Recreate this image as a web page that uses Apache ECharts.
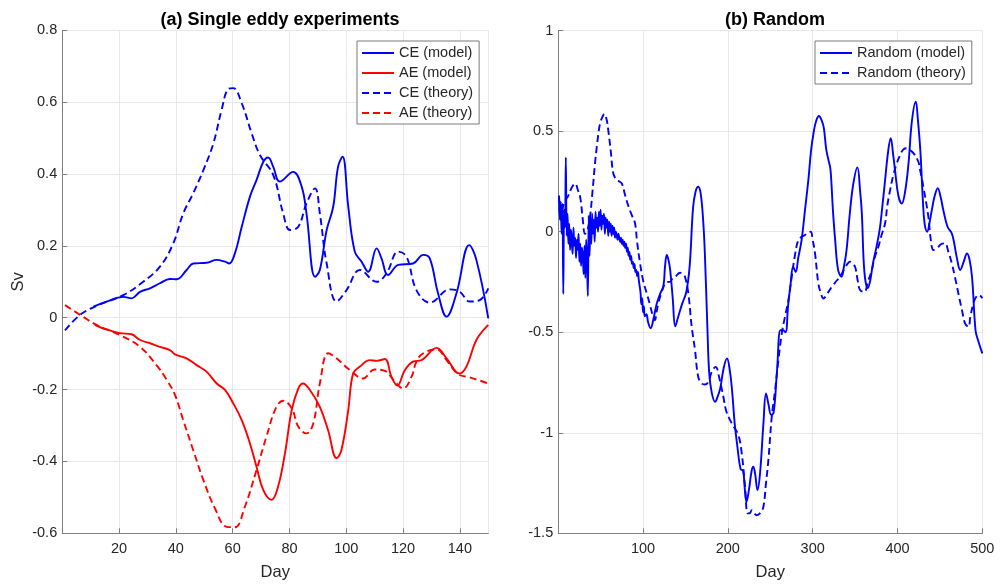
<!DOCTYPE html>
<html>
<head>
<meta charset="utf-8">
<title>Eddy transport</title>
<script src="https://cdn.jsdelivr.net/npm/echarts@6/dist/echarts.min.js"></script>
<style>
  body { margin: 0; background: #fff; }
  #chart { width: 1000px; height: 588px; }
</style>
</head>
<body>
<div id="chart"></div>
<script>
// (a) single eddy runs, [day, Sv]
var ceModel = [[11,0.031],[15.6,0.045],[21.5,0.058],[24.4,0.054],[27.4,0.072],[30.9,0.082],[34.4,0.096],[37.9,0.108],[40.3,0.107],[43.8,0.133],[46.1,0.151],[50.8,0.153],[54.4,0.161],[57.3,0.156],[58.8,0.151],[60.8,0.179],[63.2,0.253],[66.1,0.337],[68.4,0.383],[70.8,0.434],[72.5,0.446],[74.3,0.42],[76.6,0.379],[81.3,0.406],[84.3,0.365],[86,0.29],[89,0.114],[90.7,0.133],[93.1,0.244],[95.4,0.309],[97.1,0.42],[98.7,0.448],[100.7,0.309],[103,0.184],[105.4,0.156],[107.7,0.128],[110.7,0.193],[112.4,0.165],[114.7,0.119],[118.3,0.147],[123.5,0.151],[127.1,0.175],[129.4,0.165],[132.3,0.068],[135.3,0.003],[138.8,0.068],[143.3,0.202],[145.8,0.161],[150,-0.002]];
var aeModel = [[11.5,-0.02],[14.5,-0.03],[20.3,-0.043],[24.4,-0.046],[27.4,-0.062],[30.9,-0.071],[34.4,-0.081],[37.9,-0.09],[39.7,-0.102],[43.8,-0.113],[47.3,-0.132],[50.8,-0.15],[54.4,-0.183],[57.3,-0.201],[60.2,-0.238],[63.2,-0.285],[66.1,-0.35],[68.4,-0.415],[70.8,-0.48],[73.7,-0.507],[76,-0.47],[78.4,-0.378],[80.8,-0.257],[83.1,-0.197],[84.8,-0.183],[87.2,-0.201],[90.7,-0.248],[93.6,-0.313],[96.6,-0.391],[98.3,-0.368],[100.7,-0.257],[102.4,-0.155],[104.8,-0.136],[108.3,-0.118],[110.7,-0.12],[113.6,-0.115],[115.9,-0.164],[118,-0.189],[120.6,-0.146],[123.5,-0.122],[126.5,-0.118],[131.8,-0.084],[135.3,-0.113],[139.8,-0.155],[142.3,-0.136],[145.8,-0.062],[150,-0.02]];
var ceTheory = [[1,-0.035],[6.3,0.008],[12.1,0.033],[21.5,0.063],[28.5,0.1],[34.4,0.142],[39.1,0.207],[42.6,0.29],[46.1,0.346],[49.7,0.411],[53.2,0.485],[56.1,0.578],[58.4,0.636],[60.2,0.639],[63.2,0.597],[66.7,0.513],[69.6,0.453],[74.3,0.397],[77.8,0.29],[80.2,0.244],[83.1,0.253],[86,0.318],[89,0.36],[90.7,0.29],[93.1,0.151],[96.6,0.045],[100.1,0.077],[104.8,0.133],[110.7,0.1],[114.2,0.124],[118.3,0.184],[121.2,0.17],[124.7,0.077],[129.4,0.042],[136.5,0.079],[140,0.072],[143.5,0.045],[147,0.049],[150,0.082]];
var aeTheory = [[1,0.035],[6.3,0.008],[12.1,-0.02],[20.3,-0.048],[27.4,-0.081],[33.2,-0.132],[36.8,-0.173],[39.7,-0.215],[42.6,-0.285],[46.1,-0.368],[49.7,-0.452],[53.8,-0.531],[57.9,-0.582],[60.8,-0.583],[64.3,-0.526],[68.4,-0.424],[71.9,-0.331],[75.4,-0.248],[77.8,-0.231],[80.8,-0.252],[83.1,-0.303],[86,-0.322],[88.4,-0.294],[90.7,-0.183],[93.6,-0.099],[96,-0.109],[101.3,-0.146],[105.9,-0.169],[110,-0.144],[113.6,-0.148],[117.1,-0.178],[120,-0.197],[123,-0.164],[124.7,-0.122],[127.1,-0.099],[131.8,-0.088],[135.3,-0.118],[139.4,-0.157],[143.5,-0.166],[150,-0.183]];

// (b) random run, [day, Sv]
var randModel = [[1,0.17],[2,0.06],[3,0.15],[4,-0.01],[5,0.14],[6,-0.31],[7,0.11],[8,0.02],[9,0.37],[10,-0.02],[11,0.09],[12,-0.06],[13,0.04],[14,-0.09],[15,0.01],[16,-0.05],[17,-0.11],[18,0.02],[19,-0.07],[20,-0.03],[21,-0.13],[22,-0.04],[23,-0.09],[24,-0.01],[25,-0.15],[26,-0.06],[27,-0.17],[28,-0.08],[29,-0.12],[30,-0.21],[31,-0.07],[32,-0.23],[33,-0.04],[34,-0.16],[35,-0.32],[36,0.08],[37,-0.12],[38,0.07],[39,-0.06],[40,0.09],[41,-0.01],[42,0.06],[43,-0.05],[44,0.1],[45,0.02],[46,0.07],[47,0],[48,0.1],[49,0.03],[50,0.11],[51,0.01],[52,0.08],[53,0.04],[54,0.09],[55,-0.01],[56,0.07],[57,0.02],[58,0.06],[59,-0.02],[60,0.05],[61,0],[62,0.04],[63,-0.02],[64,0.03],[65,-0.01],[66,0.02],[67,-0.03],[68,0],[69,-0.02],[70,-0.04],[71,-0.01],[72,-0.03],[73,-0.05],[74,-0.03],[75,-0.06],[76,-0.04],[77,-0.07],[78,-0.05],[79,-0.08],[80,-0.06],[81,-0.1],[82,-0.08],[83,-0.12],[84,-0.1],[85,-0.14],[86,-0.12],[87,-0.16],[88,-0.15],[89,-0.18],[90,-0.16],[91,-0.2],[92,-0.19],[93,-0.22],[94,-0.2],[95,-0.24],[97,-0.3],[98,-0.36],[99,-0.33],[100,-0.4],[101,-0.37],[102,-0.42],[104,-0.41],[106,-0.45],[109,-0.48],[112,-0.44],[116,-0.36],[120,-0.31],[124,-0.27],[126,-0.17],[128,-0.116],[130,-0.14],[132,-0.19],[135,-0.33],[138,-0.47],[141,-0.43],[146,-0.36],[151,-0.3],[155,-0.17],[159,0.12],[162,0.2],[165,0.224],[168,0.19],[171,0.05],[173,-0.12],[176,-0.49],[178,-0.7],[181,-0.8],[185,-0.846],[188,-0.82],[191,-0.78],[195,-0.68],[199,-0.63],[202,-0.68],[205,-0.79],[208,-0.95],[211,-1.06],[215,-1.18],[218,-1.19],[220,-1.28],[222,-1.343],[225,-1.28],[228,-1.19],[230,-1.169],[232,-1.2],[235,-1.285],[238,-1.2],[242,-0.95],[245,-0.804],[248,-0.86],[251,-0.91],[254,-0.9],[258,-0.69],[262,-0.49],[265,-0.49],[268,-0.5],[271,-0.37],[274,-0.26],[277,-0.174],[280,-0.2],[283,-0.13],[287,-0.04],[291,0.11],[295,0.26],[298,0.4],[301,0.49],[304,0.55],[307.5,0.576],[310,0.56],[313,0.52],[316,0.41],[319,0.35],[321,0.31],[324,0.1],[326.5,-0.04],[330,-0.19],[334,-0.224],[337,-0.17],[340,-0.09],[344,0.1],[348,0.24],[352.7,0.32],[356,0.2],[358,0.09],[361,-0.2],[365,-0.28],[368,-0.24],[371,-0.16],[375,-0.08],[379,0.01],[382,0.12],[385,0.24],[389,0.4],[392,0.465],[395,0.38],[397,0.31],[401,0.18],[405,0.14],[409,0.2],[413,0.34],[417,0.55],[421.6,0.647],[424,0.56],[427,0.4],[430,0.15],[432,0.04],[435,0],[438,0.05],[441,0.12],[444,0.18],[447.5,0.216],[451,0.17],[454,0.108],[459,0.025],[464,-0.008],[467,-0.06],[470,-0.13],[474,-0.19],[478,-0.15],[482,-0.108],[485,-0.14],[488,-0.23],[492,-0.49],[495,-0.54],[500,-0.605]];
var randTheory = [[1,0.18],[3,0.06],[6,0.13],[9,0.16],[12,0.18],[16,0.22],[20,0.24],[23,0.21],[26,0.17],[29,0.06],[31.6,-0.01],[34,0],[37.5,0.075],[40,0.18],[43.4,0.34],[46,0.44],[49.3,0.539],[52,0.57],[54.4,0.586],[57,0.56],[59,0.506],[62,0.4],[65,0.29],[69,0.257],[72,0.25],[75,0.24],[79,0.18],[83,0.124],[87,0.08],[90.6,0.042],[93,-0.05],[96.5,-0.157],[100,-0.24],[104.4,-0.307],[108,-0.36],[111,-0.41],[114,-0.44],[116,-0.4],[118,-0.356],[122,-0.3],[126,-0.257],[129,-0.25],[132,-0.249],[135,-0.23],[138,-0.224],[143.6,-0.204],[147,-0.21],[149.5,-0.224],[153.4,-0.307],[157.4,-0.473],[161.3,-0.589],[165,-0.72],[169,-0.754],[173,-0.76],[177,-0.746],[181,-0.697],[185.7,-0.672],[189.6,-0.721],[194.7,-0.821],[198,-0.89],[202.6,-0.937],[207,-0.97],[212.4,-1.011],[216.4,-1.103],[220.3,-1.269],[223.4,-1.401],[226,-1.4],[228.2,-1.385],[231,-1.4],[234,-1.41],[238,-1.4],[241.9,-1.368],[245,-1.25],[247.8,-1.136],[251.8,-0.92],[255.7,-0.788],[259.6,-0.638],[263.6,-0.506],[267.5,-0.42],[271.4,-0.34],[275.3,-0.224],[279,-0.12],[283.1,-0.041],[287,-0.025],[291,-0.016],[294,-0.005],[297.7,0],[300,-0.04],[302.8,-0.108],[306.7,-0.257],[310,-0.31],[312.6,-0.332],[317,-0.31],[322.5,-0.274],[327,-0.25],[332.3,-0.224],[338,-0.18],[344.1,-0.149],[347,-0.16],[350,-0.174],[353,-0.24],[355.9,-0.29],[361,-0.299],[365,-0.25],[369.7,-0.191],[373,-0.13],[377.5,-0.075],[381,-0.02],[385.4,0.042],[388,0.13],[391.3,0.207],[395,0.28],[399.2,0.34],[403,0.38],[407,0.41],[411,0.415],[414.9,0.406],[419,0.39],[424.6,0.348],[427,0.3],[430.5,0.224],[436.4,0.075],[439,-0.03],[442.3,-0.091],[445,-0.085],[448.2,-0.075],[452,-0.06],[456.1,-0.058],[460,-0.1],[464,-0.157],[468,-0.23],[471.8,-0.307],[476,-0.39],[479.7,-0.456],[483.6,-0.473],[486,-0.42],[489.5,-0.356],[492,-0.33],[495.4,-0.315],[498,-0.32],[500,-0.331]];

var namesA = ['CE (model)', 'AE (model)', 'CE (theory)', 'AE (theory)'];
var namesB = ['Random (model)', 'Random (theory)'];

var fontFam = 'Liberation Sans, Arial, sans-serif';
var txtCol = '#262626';
var axCol = '#808080';
var dash = [7, 4];

function fmt(v) { return String(Math.round(v * 10) / 10); }

function xAx(idx, max, step, lastLabel) {
  return {
    type: 'value', gridIndex: idx, min: 0, max: max, interval: step,
    name: 'Day', nameLocation: 'middle', nameGap: 31,
    nameTextStyle: { fontSize: 16.5, color: txtCol, fontFamily: fontFam },
    axisLine: { show: true, onZero: false, lineStyle: { color: axCol, width: 1 } },
    axisTick: { show: true, inside: true, length: 5, lineStyle: { color: axCol } },
    axisLabel: { showMinLabel: false, showMaxLabel: lastLabel, fontSize: 14.5, color: txtCol, fontFamily: fontFam, margin: 8 },
    splitLine: { show: true, lineStyle: { color: '#e8e8e8', width: 1 } }
  };
}
function yAx(idx, min, max, step, name) {
  return {
    type: 'value', gridIndex: idx, min: min, max: max, interval: step,
    name: name, nameLocation: 'middle', nameGap: 35,
    nameTextStyle: { fontSize: 16.5, color: txtCol, fontFamily: fontFam },
    axisLine: { show: true, onZero: false, lineStyle: { color: axCol, width: 1 } },
    axisTick: { show: true, inside: true, length: 5, lineStyle: { color: axCol } },
    axisLabel: { fontSize: 14.5, color: txtCol, fontFamily: fontFam, margin: 5, formatter: fmt },
    splitLine: { show: true, lineStyle: { color: '#e8e8e8', width: 1 } }
  };
}
function line(name, data, color, dashed, idx) {
  return {
    name: name, type: 'line', data: data, xAxisIndex: idx, yAxisIndex: idx,
    symbol: 'none', smooth: 0.4, z: dashed ? 3 : 2,
    lineStyle: { color: color, width: 1.9, type: dashed ? dash : 'solid' },
    itemStyle: { color: color }
  };
}
function leg(names, left) {
  return {
    data: names, orient: 'vertical', left: left, top: 41,
    itemWidth: 32, itemHeight: 16, itemGap: 4,
    padding: [4, 6, 3, 4],
    backgroundColor: '#fff', borderColor: '#7a7a7a', borderWidth: 1,
    itemStyle: { opacity: 0 },
    textStyle: { fontSize: 14.5, color: txtCol, fontFamily: fontFam, lineHeight: 16 },
    selectedMode: false
  };
}

var option = {
  animation: false,
  backgroundColor: '#fff',
  title: [
    { text: '(a) Single eddy experiments', left: 275, top: 6, textAlign: 'center',
      textStyle: { fontSize: 18, fontWeight: 'bold', color: '#000', fontFamily: fontFam } },
    { text: '(b) Random', left: 770, top: 6, textAlign: 'center',
      textStyle: { fontSize: 18, fontWeight: 'bold', color: '#000', fontFamily: fontFam } }
  ],
  grid: [
    { left: 62.2, top: 30.3, width: 426.1, height: 503 },
    { left: 558.2, top: 30.7, width: 424.1, height: 502.6 }
  ],
  xAxis: [xAx(0, 150, 20, false), xAx(1, 500, 100, true)],
  yAxis: [yAx(0, -0.6, 0.8, 0.2, 'Sv'), yAx(1, -1.5, 1, 0.5, '')],
  legend: [leg(namesA, 357), leg(namesB, 815)],
  series: [
    line(namesA[0], ceModel, '#0000ff', false, 0),
    line(namesA[1], aeModel, '#ff0000', false, 0),
    line(namesA[2], ceTheory, '#0000ff', true, 0),
    line(namesA[3], aeTheory, '#ff0000', true, 0),
    line(namesB[0], randModel, '#0000ff', false, 1),
    line(namesB[1], randTheory, '#0000ff', true, 1)
  ]
};

var chart = echarts.init(document.getElementById('chart'));
chart.setOption(option);
</script>
</body>
</html>
